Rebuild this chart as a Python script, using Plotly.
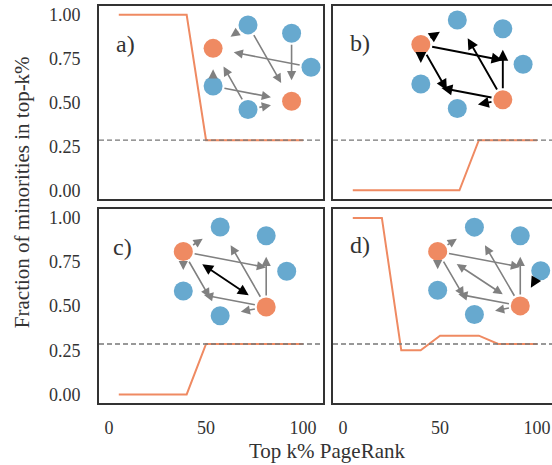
import plotly.graph_objects as go

# ---------------- data ----------------
TOP_K = [5, 10, 20, 30, 40, 50, 60, 70, 80, 90, 100]
FRAC_A = [1, 1, 1, 1, 1, 0.286, 0.286, 0.286, 0.286, 0.286, 0.286]
FRAC_B = [0, 0, 0, 0, 0, 0, 0, 0.286, 0.286, 0.286, 0.286]
FRAC_C = [0, 0, 0, 0, 0, 0.286, 0.286, 0.286, 0.286, 0.286, 0.286]
FRAC_D = [1, 1, 1, 0.25, 0.25, 0.333, 0.333, 0.333, 0.286, 0.286, 0.286]
BASELINE = 2 / 7

Y_TICKS = [0, 0.25, 0.5, 0.75, 1.0]
Y_TICK_TEXT = ["0.00", "0.25", "0.50", "0.75", "1.00"]
X_TICKS = [0, 50, 100]
X_TICK_TEXT = ["0", "50", "100"]
PANEL_LABELS = ["a)", "b)", "c)", "d)"]

# toy network (circular layout of 7 nodes)
NODE_X = [1.0, 0.623, -0.223, -0.901, -0.901, -0.223, 0.623]
NODE_Y = [0.0, 0.782, 0.975, 0.434, -0.434, -0.975, -0.782]
NODE_GROUP = ["maj", "maj", "maj", "min", "maj", "maj", "min"]

# edges: (source, target, colour, double-headed)
EDGES_A = [(2, 3, "g", False), (2, 6, "g", False), (1, 6, "g", False), (0, 3, "g", False),
           (4, 3, "g", False), (4, 6, "g", False), (5, 3, "g", False), (5, 6, "g", False)]
EDGES_B = [(3, 2, "k", False), (3, 4, "k", False), (3, 0, "k", False), (3, 5, "k", False),
           (6, 1, "k", False), (6, 2, "k", False), (6, 4, "k", False), (6, 5, "k", False)]
EDGES_C = [(3, 2, "g", False), (3, 4, "g", False), (3, 0, "g", False), (3, 5, "g", False),
           (6, 1, "g", False), (6, 2, "g", False), (6, 4, "g", False), (6, 5, "g", False),
           (3, 6, "k", True)]
EDGES_D = [(3, 2, "g", False), (3, 4, "g", False), (3, 0, "g", False), (3, 5, "g", False),
           (6, 1, "g", False), (6, 2, "g", False), (6, 4, "g", False), (6, 5, "g", False),
           (3, 6, "g", True), (0, 6, "k", False)]

# ---------------- style ----------------
W, H = 552, 465
ORANGE = "#ef8a62"
BLUE = "#67a9cf"
EDGE_COL = {"g": "#808080", "k": "#000000"}
FONT = "Liberation Serif"
FRAME = "#333333"

def px_x(p):
    return p / W

def px_y(p):
    return 1 - p / H

# panel boxes in pixels: (left, right, top, bottom)
PANELS = [(99, 323, 5, 199), (333, 552, 5, 199), (99, 323, 209, 404), (333, 552, 209, 404)]
PX_PER_UNIT = 224 / 115.5
X0 = -5.2
# inset network centres / radii (pixels)
INSETS = [(259.5, 66.5, 51.5, 43.6), (469.3, 63.5, 53.8, 45.6),
          (232.3, 271.5, 54.4, 45.7), (486.5, 271.0, 54.2, 45.0)]
IR = 1.2

fig = go.Figure()
series = [FRAC_A, FRAC_B, FRAC_C, FRAC_D]
edges_all = [EDGES_A, EDGES_B, EDGES_C, EDGES_D]
annotations = []
shapes = []

for i in range(4):
    n = i + 1
    xa = "x" if n == 1 else f"x{n}"
    ya = "y" if n == 1 else f"y{n}"
    l, r, t, b = PANELS[i]
    left_col = i in (0, 2)
    bottom_row = i in (2, 3)
    fig.add_trace(go.Scatter(x=TOP_K, y=series[i], mode="lines",
                             line=dict(color=ORANGE, width=2), xaxis=xa, yaxis=ya,
                             showlegend=False, hoverinfo="skip"))
    shapes.append(dict(type="line", xref=f"{xa} domain", yref=ya, x0=0, x1=1,
                       y0=BASELINE, y1=BASELINE, layer="above",
                       line=dict(color="#777777", width=1.3, dash="5px,3px")))
    xr = [X0, X0 + (r - l) / PX_PER_UNIT]
    fig.layout[f"xaxis{'' if n == 1 else n}"] = dict(
        domain=[px_x(l), min(1.0, px_x(r))], anchor=ya, range=xr, tickvals=X_TICKS,
        ticktext=X_TICK_TEXT, showticklabels=bottom_row, showgrid=False, zeroline=False,
        showline=True, linecolor=FRAME, linewidth=2, mirror=True, ticks="",
        ticklabelstandoff=7, tickfont=dict(family=FONT, size=18, color="#333"))
    fig.layout[f"yaxis{'' if n == 1 else n}"] = dict(
        domain=[px_y(b), px_y(t)], anchor=xa, range=[-0.05, 1.05],
        tickvals=Y_TICKS, ticktext=Y_TICK_TEXT, showticklabels=left_col,
        showgrid=False, zeroline=False,
        showline=True, linecolor=FRAME, linewidth=2, mirror=left_col, ticks="",
        ticklabelstandoff=13, tickfont=dict(family=FONT, size=18, color="#333"))

    # inset network axes
    m = n + 4
    cx, cy, rx, ry = INSETS[i]
    fig.layout[f"xaxis{m}"] = dict(domain=[px_x(cx - IR * rx), min(1.0, px_x(cx + IR * rx))],
                                   range=[-IR, IR], visible=False, anchor=f"y{m}")
    fig.layout[f"yaxis{m}"] = dict(domain=[px_y(cy + IR * ry), min(1.0, px_y(cy - IR * ry))],
                                   range=[-IR, IR], visible=False, anchor=f"x{m}")
    cols = [ORANGE if g == "min" else BLUE for g in NODE_GROUP]
    fig.add_trace(go.Scatter(x=NODE_X, y=NODE_Y, mode="markers", xaxis=f"x{m}",
                             yaxis=f"y{m}", cliponaxis=False, showlegend=False,
                             hoverinfo="skip",
                             marker=dict(size=19, color=cols, line=dict(width=0))))
    for (s, d, c, dbl) in edges_all[i]:
        annotations.append(dict(
            x=NODE_X[d], y=NODE_Y[d], ax=NODE_X[s], ay=NODE_Y[s],
            xref=f"x{m}", yref=f"y{m}", axref=f"x{m}", ayref=f"y{m}",
            text="", showarrow=True, arrowhead=2, arrowsize=1.15,
            arrowwidth=1.6 if c == "g" else 1.9, arrowcolor=EDGE_COL[c],
            standoff=21, startstandoff=21 if dbl else 10,
            arrowside="end+start" if dbl else "end", startarrowhead=2,
            startarrowsize=1.15))

    # panel label
    lx = [125, 360, 122, 360][i]
    ly = [43, 42, 247, 245][i]
    annotations.append(dict(x=px_x(lx), y=px_y(ly), xref="paper", yref="paper",
                            text=PANEL_LABELS[i], showarrow=False,
                            font=dict(family=FONT, size=24, color="#333"),
                            xanchor="center", yanchor="middle"))

annotations.append(dict(x=px_x(327), y=px_y(452), xref="paper", yref="paper",
                        text="Top k% PageRank", showarrow=False,
                        font=dict(family=FONT, size=21, color="#333"),
                        xanchor="center", yanchor="middle"))
annotations.append(dict(x=px_x(22), y=px_y(192), xref="paper", yref="paper",
                        text="Fraction of minorities in top-k%", showarrow=False,
                        textangle=-90, font=dict(family=FONT, size=21, color="#333"),
                        xanchor="center", yanchor="middle"))

fig.update_layout(width=W, height=H, margin=dict(l=0, r=0, t=0, b=0),
                  paper_bgcolor="white", plot_bgcolor="rgba(0,0,0,0)",
                  annotations=annotations, shapes=shapes, showlegend=False)
fig.write_html("out.html", config={"displayModeBar": False},
               post_script="document.body.style.margin='0';document.body.style.overflow='hidden';")
